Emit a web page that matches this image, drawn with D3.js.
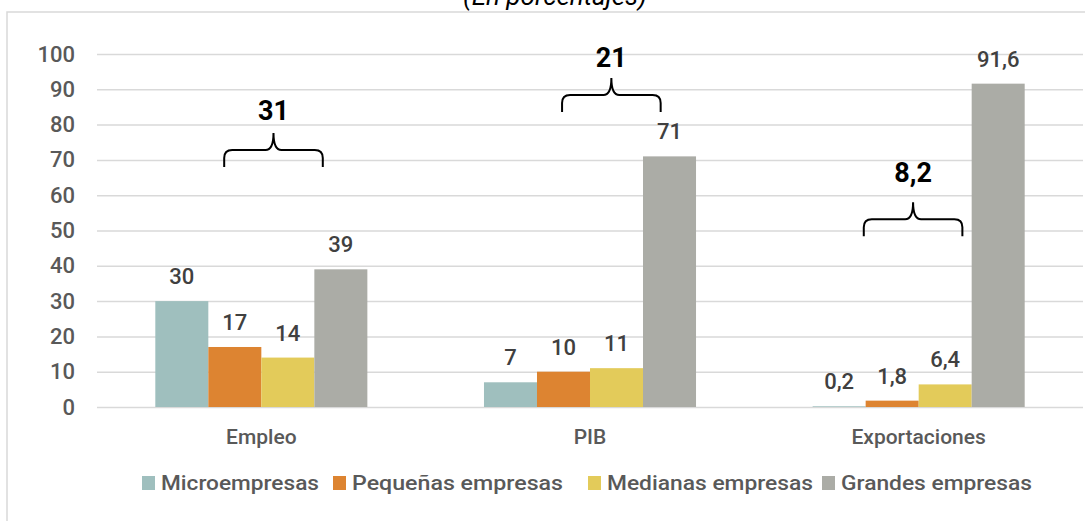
<!DOCTYPE html>
<html>
<head>
<meta charset="utf-8">
<script src="https://cdn.jsdelivr.net/npm/d3@7"></script>
<style>
  html, body { margin: 0; padding: 0; background: #ffffff; }
  svg { display: block; }
  text { font-family: Roboto, "Liberation Sans", Arial, sans-serif; }
</style>
</head>
<body>
<svg id="chart" width="1085" height="521"></svg>
<script>
// ---- data ----
const categories = ["Empleo", "PIB", "Exportaciones"];
const seriesNames = ["Microempresas", "Pequeñas empresas", "Medianas empresas", "Grandes empresas"];
const microempresas = [30, 7, 0.2];
const pequenas = [17, 10, 1.8];
const medianas = [14, 11, 6.4];
const grandes = [39, 71, 91.6];
const yTicks = [0, 10, 20, 30, 40, 50, 60, 70, 80, 90, 100];
// brace annotations (sum of pequeñas + medianas)
const braceTotals = [31, 21, 8.2];
const braceLevel = [68, 83.6, 48.4];      // bottom of brace ends, in data units
const braceLabelLevel = [81.3, 96.3, 63.7]; // label baseline, in data units
const braceShift = [0.037, 0.065, -0.017]; // brace center offset, fraction of band
const colors = ["#9fbfbe", "#dd8431", "#e3cb5a", "#abaca6"];
const titleText = "(En porcentajes)";

const seriesValues = [microempresas, pequenas, medianas, grandes];
const fmt = v => String(v).replace(".", ",");
const FONT = "Roboto, 'Liberation Sans', Arial, sans-serif";

const svg = d3.select("#chart");
const W = 1085, H = 521;
const plot = { left: 97, right: 1083, top: 54, bottom: 407 };

// outer border
svg.append("rect")
  .attr("x", 7).attr("y", 12).attr("width", W + 10).attr("height", H + 10)
  .attr("fill", "none").attr("stroke", "#d9d9d9").attr("stroke-width", 1.5);

// title (partially clipped at top, as in the reference)
svg.append("text")
  .attr("x", 555).attr("y", 5)
  .attr("text-anchor", "middle")
  .attr("font-size", 26).attr("font-style", "italic")
  .attr("font-family", "'Liberation Sans', Arial, sans-serif")
  .attr("fill", "#000")
  .text(titleText);

const y = d3.scaleLinear().domain([0, 100]).range([plot.bottom, plot.top]);
const x0 = d3.scaleBand().domain(categories).range([plot.left, plot.right]).padding(0);
const x1 = d3.scaleBand().domain(seriesNames).range([0, x0.bandwidth()])
  .paddingInner(0).paddingOuter(1.1);

// gridlines
const yAxis = d3.axisLeft(y).tickValues(yTicks).tickSize(-(plot.right - plot.left)).tickPadding(22);
const gy = svg.append("g").attr("transform", `translate(${plot.left},0)`).call(yAxis);
gy.select(".domain").remove();
gy.selectAll(".tick line").attr("stroke", "#d9d9d9").attr("stroke-width", 1.5);
gy.selectAll(".tick text")
  .attr("font-size", 22).attr("font-weight", 500).attr("fill", "#595959")
  .attr("font-family", FONT);

// bars
const groups = svg.append("g").selectAll("g")
  .data(categories)
  .join("g")
  .attr("transform", d => `translate(${x0(d)},0)`);

groups.selectAll("rect")
  .data((c, i) => seriesNames.map((s, j) => ({ s, v: seriesValues[j][i], j })))
  .join("rect")
  .attr("x", d => x1(d.s))
  .attr("width", x1.bandwidth())
  .attr("y", d => y(d.v))
  .attr("height", d => y(0) - y(d.v))
  .attr("fill", d => colors[d.j]);

groups.selectAll("text.val")
  .data((c, i) => seriesNames.map((s, j) => ({ s, v: seriesValues[j][i], j })))
  .join("text")
  .attr("class", "val")
  .attr("x", d => x1(d.s) + x1.bandwidth() / 2)
  .attr("y", d => y(d.v) - 17)
  .attr("text-anchor", "middle")
  .attr("font-size", 22).attr("font-weight", 500).attr("fill", "#404040")
  .text(d => fmt(d.v));

// category axis labels
const xAxis = d3.axisBottom(x0).tickSize(0).tickPadding(22);
const gx = svg.append("g").attr("transform", `translate(0,${plot.bottom})`).call(xAxis);
gx.select(".domain").remove();
gx.selectAll(".tick text")
  .attr("font-size", 21).attr("font-weight", 500).attr("fill", "#595959")
  .attr("font-family", FONT);

// braces
function bracePath(xl, xr, yEnd, yH, yTip) {
  const xm = (xl + xr) / 2;
  const r = 8;
  return `M${xl},${yEnd} L${xl},${yH + r} Q${xl},${yH} ${xl + r},${yH} L${xm - r},${yH} Q${xm},${yH} ${xm},${yTip}`
    + ` Q${xm},${yH} ${xm + r},${yH} L${xr - r},${yH} Q${xr},${yH} ${xr},${yH + r} L${xr},${yEnd}`;
}
const braceW = x0.bandwidth() * 0.30;
categories.forEach((c, i) => {
  const cx = x0(c) + x0.bandwidth() / 2 + braceShift[i] * x0.bandwidth();
  const yEnd = y(braceLevel[i]);
  const yH = yEnd - 17;
  const yTip = yEnd - 34;
  svg.append("path")
    .attr("d", bracePath(cx - braceW / 2, cx + braceW / 2, yEnd, yH, yTip))
    .attr("fill", "none").attr("stroke", "#000").attr("stroke-width", 2);
  svg.append("text")
    .attr("x", cx).attr("y", y(braceLabelLevel[i]))
    .attr("text-anchor", "middle")
    .attr("font-size", 27).attr("font-weight", "bold").attr("fill", "#000")
    .text(fmt(braceTotals[i]));
});

// legend
const legendX = [142, 333, 588, 822];
const legendW = [158, 211, 206, 191];
const lg = svg.append("g");
seriesNames.forEach((s, i) => {
  lg.append("rect")
    .attr("x", legendX[i]).attr("y", 476).attr("width", 13).attr("height", 14)
    .attr("fill", colors[i]);
  lg.append("text")
    .attr("x", legendX[i] + 19).attr("y", 490)
    .attr("font-size", 21).attr("font-weight", 500).attr("fill", "#595959")
    .attr("textLength", legendW[i]).attr("lengthAdjust", "spacingAndGlyphs")
    .text(s);
});
</script>
</body>
</html>
